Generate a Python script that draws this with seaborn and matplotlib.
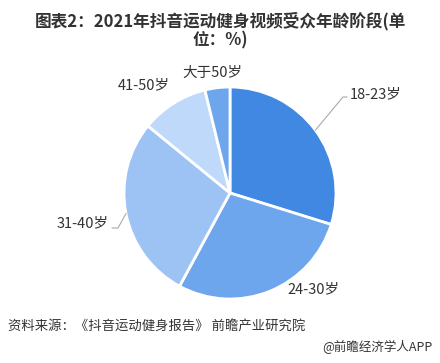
import numpy as np
import matplotlib
matplotlib.use("Agg")
import matplotlib.pyplot as plt
import seaborn as sns

sns.set_theme(style="white")
plt.rcParams['font.family'] = ['Noto Sans CJK SC', 'DejaVu Sans']

categories = ["18-23岁", "24-30岁", "31-40岁", "41-50岁", "大于50岁"]
values = [29.8, 28.1, 28.0, 10.3, 3.8]
colors = ["#4088e2", "#6ea6ee", "#9dc3f5", "#bfd9fb", "#6ea6ee"]

title = "图表2：2021年抖音运动健身视频受众年龄阶段(单\n位：%)"
source = "资料来源：《抖音运动健身报告》 前瞻产业研究院"
brand = "@前瞻经济学人APP"

W, H = 440, 363
fig = plt.figure(figsize=(W / 100, H / 100), dpi=100)
cx, cy, R = 230, 193, 106
ax = fig.add_axes([(cx - R) / W, (H - cy - R) / H, 2 * R / W, 2 * R / H])
wedges, _ = ax.pie(values, colors=colors, startangle=90, counterclock=False,
                   radius=1.0,
                   wedgeprops=dict(edgecolor="white", linewidth=2))
ax.set_xlim(-1, 1)
ax.set_ylim(-1, 1)
ax.set_aspect("equal")
ax.axis("off")


def px(xp, yp):
    return (xp - cx) / R, (cy - yp) / R


def edge(w):
    a = np.deg2rad((w.theta1 + w.theta2) / 2)
    return np.cos(a), np.sin(a)


lab_kw = dict(fontsize=10.5, color="#333333", va="center")
# 18-23
e = edge(wedges[0])
p1 = px(343, 97); p2 = px(347, 97)
ax.plot([e[0], p1[0], p2[0]], [e[1], p1[1], p2[1]], color="#aaaaaa", lw=0.8, clip_on=False)
ax.text(*px(350, 94), categories[0], ha="left", **lab_kw)
# 24-30
ax.text(*px(287, 289), categories[1], ha="left", **lab_kw)
# 31-40
e = edge(wedges[2])
p1 = px(118, 228); p2 = px(112, 228)
ax.plot([e[0], p1[0], p2[0]], [e[1], p1[1], p2[1]], color="#aaaaaa", lw=0.8, clip_on=False)
ax.text(*px(109, 223), categories[2], ha="right", **lab_kw)
# 41-50
ax.text(*px(170, 85), categories[3], ha="right", **lab_kw)
# >50
ax.text(*px(212, 73), categories[4], ha="center", **lab_kw)

fig.text(0.5, 1 - 31 / H, title, ha="center", va="center", fontsize=12,
         fontweight="bold", color="#333333", linespacing=1.05)
fig.text(8 / W, 1 - 327 / H, source, ha="left", va="center", fontsize=9.6,
         color="#333333")
fig.text(432 / W, 1 - 347 / H, brand, ha="right", va="center", fontsize=9,
         color="#333333")

fig.savefig("out.png", dpi=100)
